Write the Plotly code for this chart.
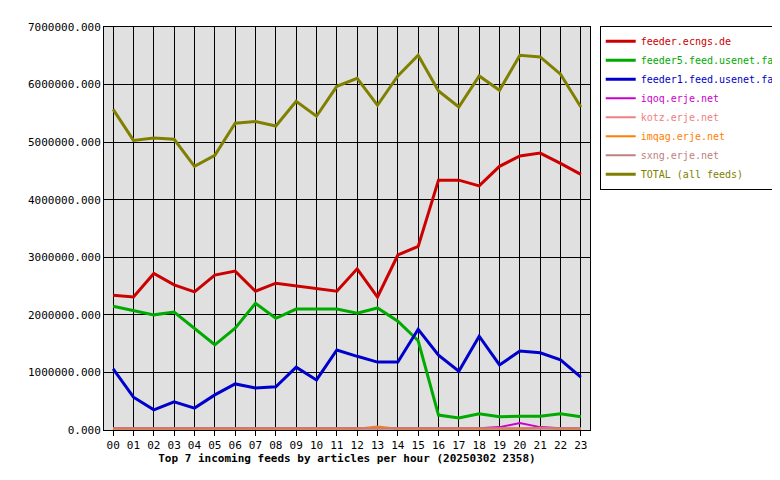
import plotly.graph_objects as go

hours = ["%02d" % h for h in range(24)]

ecngs = [2.34, 2.31, 2.72, 2.52, 2.40, 2.69, 2.76, 2.41, 2.55, 2.50, 2.45, 2.41,
         2.80, 2.31, 3.04, 3.19, 4.34, 4.34, 4.24, 4.58, 4.76, 4.81, 4.63, 4.44]
feeder5 = [2.15, 2.08, 2.00, 2.05, 1.77, 1.48, 1.77, 2.20, 1.94, 2.10, 2.10, 2.10,
           2.03, 2.12, 1.89, 1.55, 0.26, 0.21, 0.28, 0.23, 0.24, 0.24, 0.28, 0.23]
feeder1 = [1.06, 0.57, 0.35, 0.49, 0.38, 0.61, 0.80, 0.73, 0.75, 1.09, 0.87, 1.39,
           1.28, 1.18, 1.18, 1.75, 1.30, 1.02, 1.63, 1.13, 1.37, 1.34, 1.22, 0.92]
iqoq = [0.03] * 19 + [0.05, 0.12, 0.05, 0.03, 0.03]
kotz = [0.02] * 24
imqag = [0.02] * 13 + [0.06] + [0.02] * 7 + [0.04, 0.02, 0.02]
sxng = [0.03] * 24
total = [5.57, 5.03, 5.07, 5.05, 4.58, 4.77, 5.33, 5.36, 5.28, 5.71, 5.45, 5.97,
         6.11, 5.64, 6.15, 6.51, 5.89, 5.61, 6.15, 5.90, 6.51, 6.48, 6.18, 5.61]

series = [
    ("feeder.ecngs.de", ecngs, "#cc0000", 3),
    ("feeder5.feed.usenet.farm", feeder5, "#00aa00", 3),
    ("feeder1.feed.usenet.farm", feeder1, "#0000cc", 3),
    ("iqoq.erje.net", iqoq, "#cc00cc", 2),
    ("kotz.erje.net", kotz, "#f08080", 2),
    ("imqag.erje.net", imqag, "#ff8000", 2),
    ("sxng.erje.net", sxng, "#c08080", 2),
    ("TOTAL (all feeds)", total, "#808000", 3),
]

fig = go.Figure()
for name, vals, col, w in series:
    # texte de la légende dans la couleur de la série
    fig.add_trace(go.Scatter(x=hours, y=[v * 1e6 for v in vals],
                             name="<span style='color:%s'>%s</span>" % (col, name),
                             mode="lines", line=dict(color=col, width=w)))

fig.update_layout(
    width=780, height=480,
    margin=dict(l=96, r=198, t=19, b=58, autoexpand=False),
    plot_bgcolor="#e0e0e0", paper_bgcolor="white",
    font=dict(family="DejaVu Sans Mono", size=11, color="black"),
    showlegend=True,
    legend=dict(x=1.02, y=1.003, xanchor="left", yanchor="top",
                bordercolor="black", borderwidth=1, tracegroupgap=0,
                font=dict(size=10), itemwidth=30),
    xaxis=dict(type="category", showgrid=True, gridcolor="black", gridwidth=1,
               showline=True, linecolor="black", mirror=True, ticks="outside",
               ticklen=5, tickcolor="black", range=[-0.45, 23.45], automargin=False,
               title=dict(text="<b>Top 7 incoming feeds by articles per hour (20250302 2358)</b>",
                          standoff=2, font=dict(size=11))),
    yaxis=dict(range=[0, 7e6], dtick=1e6, tickformat=".3f", showgrid=True,
               gridcolor="black", gridwidth=1, showline=True, linecolor="black",
               mirror=True, zeroline=False, automargin=False),
)
fig.write_html("out.html")
